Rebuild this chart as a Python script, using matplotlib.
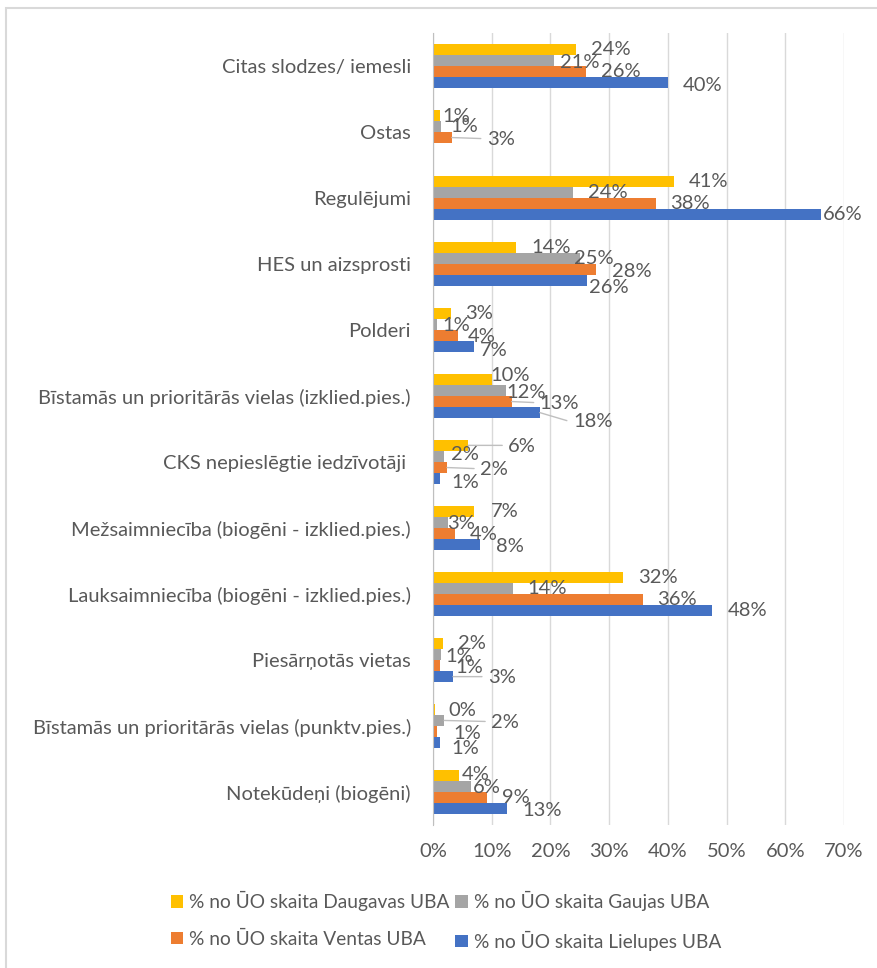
import numpy as np
import matplotlib.pyplot as plt
from matplotlib.patches import Rectangle

plt.rcParams['font.family'] = ['Lato', 'DejaVu Sans']

# dati (daļa no ŪO skaita, %)
categories = [
    'Citas slodzes/ iemesli',
    'Ostas',
    'Regulējumi',
    'HES un aizsprosti',
    'Polderi',
    'Bīstamās un prioritārās vielas (izklied.pies.)',
    'CKS nepieslēgtie iedzīvotāji ',
    'Mežsaimniecība (biogēni - izklied.pies.)',
    'Lauksaimniecība (biogēni - izklied.pies.)',
    'Piesārņotās vietas',
    'Bīstamās un prioritārās vielas (punktv.pies.)',
    'Notekūdeņi (biogēni)',
]
daugavas = [24.3, 1.2, 41.0, 14.2, 3.0, 10.1, 6.0, 7.0, 32.3, 1.7, 0.3, 4.4]
gaujas = [20.6, 1.3, 23.8, 25.0, 0.7, 12.4, 1.9, 2.6, 13.6, 1.3, 1.9, 6.4]
ventas = [26.0, 3.2, 37.9, 27.8, 4.3, 13.4, 2.4, 3.7, 35.7, 1.2, 0.7, 9.2]
lielupes = [40.0, 0.0, 66.0, 26.2, 7.0, 18.2, 1.2, 8.0, 47.6, 3.4, 1.2, 12.6]

series = [
    ('% no ŪO skaita Daugavas UBA', daugavas, '#FFC000'),
    ('% no ŪO skaita Gaujas UBA', gaujas, '#A5A5A5'),
    ('% no ŪO skaita Ventas UBA', ventas, '#ED7D31'),
    ('% no ŪO skaita Lielupes UBA', lielupes, '#4472C4'),
]

# etiķešu nobīdes pikseļos (x, y uz leju), kur Excel tās pārvietoja
label_shift = {
    (0, 1): (6, 2), (0, 3): (15, 3),
    (1, 0): (2, 1), (1, 1): (10, 0), (1, 2): (35, 2),
    (2, 3): (2, 0),
    (3, 1): (-6, 0), (3, 2): (16, 2), (3, 3): (2, 7),
    (4, 1): (5, 1), (4, 2): (10, 1), (4, 3): (6, 4),
    (5, 0): (-2, -4), (5, 1): (1, 2), (5, 2): (28, 2), (5, 3): (33, 9),
    (6, 0): (40, 1), (6, 1): (7, -2), (6, 2): (33, 2), (6, 3): (11, 4),
    (7, 0): (17, 0), (7, 1): (-1, 1), (7, 2): (15, 1), (7, 3): (16, 2),
    (9, 1): (5, 2), (9, 2): (15, 2), (9, 3): (35, 1),
    (10, 0): (14, 1), (10, 1): (47, 2), (10, 2): (16, 2), (10, 3): (11, 6),
    (11, 0): (3, -1), (11, 1): (2, 1), (11, 3): (15, 2),
}
leader_min = 25
text_col = '#595959'

fig = plt.figure(figsize=(8.77, 9.68), dpi=100)
ax = fig.add_axes([433 / 877, 1 - 825 / 968, (844 - 433) / 877, (825 - 33) / 968])

n = len(categories)
y = np.arange(n)
h = 0.168
for k, (name, vals, col) in enumerate(series):
    pos = y + (k - 1.5) * h
    ax.barh(pos, vals, height=h, color=col, label=name, edgecolor='none', zorder=3)
    for i, v in enumerate(vals):
        if v == 0:
            continue
        dx, dy = label_shift.get((i, k), (15, 0))
        ax.annotate(f'{v:.0f}%', xy=(v, pos[i]), xytext=(dx, -dy),
                    textcoords='offset pixels', ha='left', va='center',
                    fontsize=14.5, color=text_col, zorder=5)
        if dx >= leader_min:
            ax.annotate('', xy=(v, pos[i]), xytext=(dx - 6, -dy + 1),
                        textcoords='offset pixels',
                        arrowprops=dict(arrowstyle='-', color='#BFBFBF', lw=1,
                                        shrinkA=0, shrinkB=0), zorder=4)

ax.set_ylim(n - 0.5, -0.5)
ax.set_xlim(0, 70)
ax.set_xticks(np.arange(0, 71, 10))
ax.set_xticklabels([f'{t}%' for t in range(0, 71, 10)])
ax.set_yticks(y)
ax.set_yticklabels(categories)
ax.tick_params(axis='x', length=0, labelsize=14.5, labelcolor=text_col, pad=13)
ax.tick_params(axis='y', length=0, labelsize=14.5, labelcolor=text_col, pad=16)
ax.grid(axis='x', color='#D9D9D9', lw=1, zorder=0)
for s in ['top', 'right', 'bottom']:
    ax.spines[s].set_visible(False)
ax.spines['left'].set_color('#BFBFBF')
ax.spines['left'].set_zorder(4)

handles, labels = ax.get_legend_handles_labels()
order = [0, 2, 1, 3]
leg = fig.legend([handles[i] for i in order], [labels[i] for i in order],
                 loc='center', bbox_to_anchor=(446 / 877, 1 - 921 / 968), ncol=2,
                 frameon=False, fontsize=13.8, labelcolor=text_col,
                 handlelength=0.65, handleheight=0.65, handletextpad=0.3,
                 columnspacing=0.3, labelspacing=1.0)

fig.patches.append(Rectangle((6 / 877, -0.01), 1, 1 - 8 / 968 + 0.01,
                             transform=fig.transFigure, fill=False,
                             edgecolor='#D9D9D9', lw=1.5))

fig.savefig('out.png', dpi=100)
